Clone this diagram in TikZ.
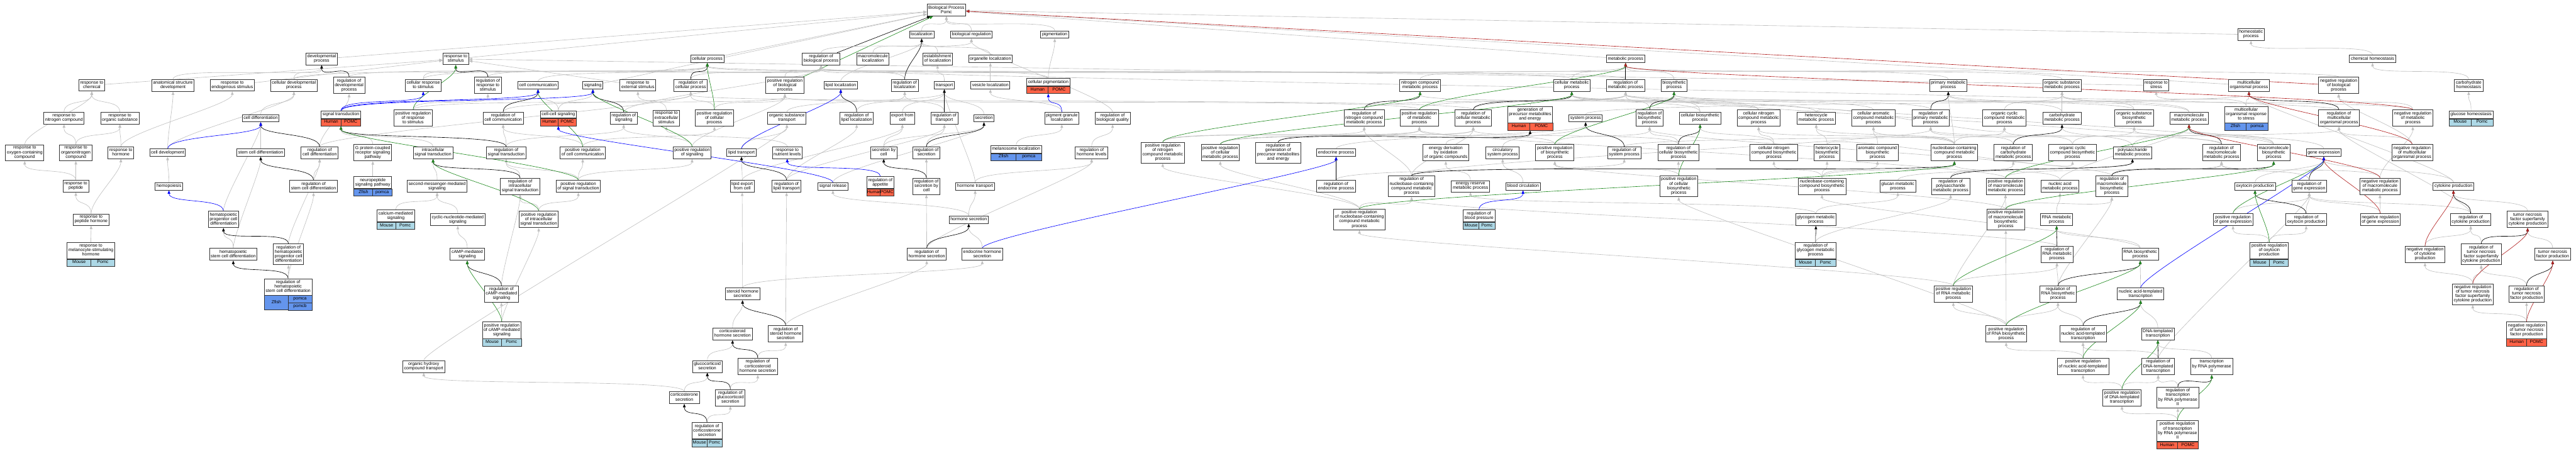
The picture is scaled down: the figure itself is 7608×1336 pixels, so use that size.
\documentclass[tikz,border=0pt]{standalone}
\usepackage{fontspec}
\setmainfont{Liberation Sans}
\usetikzlibrary{arrows.meta,calc,fit}
\pgfdeclarelayer{edges}
\pgfsetlayers{edges,main}

\definecolor{human}{RGB}{255,99,71}
\definecolor{mouse}{RGB}{173,216,230}
\definecolor{zfish}{RGB}{100,149,237}
\definecolor{edgegrey}{RGB}{192,192,192}
\definecolor{posgreen}{RGB}{34,139,34}
\definecolor{negred}{RGB}{178,34,34}

\tikzset{
  term/.style={draw=black!80, line width=1.6pt, fill=white, align=center,
    inner xsep=4pt, inner ysep=4.3pt, font=\fontsize{13}{13.2}\selectfont,
    execute at begin node=\strut, execute at end node=\strut},
  genecell/.style={draw=black!80, line width=1.2pt, minimum height=21pt,
    inner sep=1pt, font=\fontsize{13}{13.2}\selectfont, execute at begin node=\strut},
  link/.style={line width=1.2pt, -{Triangle[length=10pt,width=8pt]}},
  isa/.style={link, draw=edgegrey},
  reg/.style={link, draw=black},
  posreg/.style={link, draw=posgreen},
  negreg/.style={link, draw=negred},
  partof/.style={link, draw=blue},
}

% gene row under an annotated term: node, colour, organism, gene
\newcommand{\genes}[4]{%
  \path let \p1=($(#1-t.east)-(#1-t.west)$) in
    node[genecell, fill=#2, minimum width=0.5*\x1, anchor=north west] (#1-o) at (#1-t.south west) {#3}
    node[genecell, fill=#2, minimum width=0.5*\x1, anchor=north east] (#1-g) at (#1-t.south east) {#4};
  \node[fit=(#1-t)(#1-o)(#1-g), inner sep=0pt] (#1) {};
}

\begin{document}
\begin{tikzpicture}[x=1pt, y=-1pt]
  \useasboundingbox (0,0) rectangle (7608,1336);

  % top levels
  \node[term] (bp) at (2795,30) {Biological Process\\Pomc};
  \node[term] (localization) at (2722,102) {localization};
  \node[term] (bioreg) at (2869,102) {biological regulation};
  \node[term] (pigmentation) at (3115,102) {pigmentation};
  \node[term] (homeo) at (6648,102) {homeostatic\\process};

  \node[term] (devproc) at (950,174) {developmental\\process};
  \node[term] (respstim) at (1346,174) {response to\\stimulus};
  \node[term] (cellproc) at (2089,174) {cellular process};
  \node[term] (regbioproc) at (2425,174) {regulation of\\biological process};
  \node[term] (macroloc) at (2578,174) {macromolecule\\localization};
  \node[term] (estloc) at (2769,174) {establishment\\of localization};
  \node[term] (orgloc) at (2925,174) {organelle localization};
  \node[term] (metproc) at (4801,174) {metabolic process};
  \node[term] (chemhomeo) at (7007,174) {chemical homeostasis};

  % row 3
  \node[term] (respchem) at (271,252) {response to\\chemical};
  \node[term] (anatdev) at (511,252) {anatomical structure\\development};
  \node[term] (respendo) at (686,252) {response to\\endogenous stimulus};
  \node[term] (celldevproc) at (868,252) {cellular developmental\\process};
  \node[term] (regdevproc) at (1031,252) {regulation of\\developmental\\process};
  \node[term] (cellresp) at (1250,252) {cellular response\\to stimulus};
  \node[term] (regrespstim) at (1441,252) {regulation of\\response to\\stimulus};
  \node[term] (cellcomm) at (1589,252) {cell communication};
  \node[term] (signaling) at (1751,252) {signaling};
  \node[term] (respext) at (1884,252) {response to\\external stimulus};
  \node[term] (regcellproc) at (2040,252) {regulation of\\cellular process};
  \node[term] (posregbio) at (2318,252) {positive regulation\\of biological\\process};
  \node[term] (lipidloc) at (2483,252) {lipid localization};
  \node[term] (regloc) at (2672,252) {regulation of\\localization};
  \node[term] (transport) at (2789,252) {transport};
  \node[term] (vesicleloc) at (2925,252) {vesicle localization};
  \node[term] (cellpig-t) at (3096,242.5) {cellular pigmentation};
  \genes{cellpig}{human}{Human}{POMC}
  \node[term] (nitrometab) at (4194,252) {nitrogen compound\\metabolic process};
  \node[term] (cellmet) at (4642,252) {cellular metabolic\\process};
  \node[term] (regmet) at (4801,252) {regulation of\\metabolic process};
  \node[term] (biosyn) at (4944,252) {biosynthetic\\process};
  \node[term] (primmet) at (5754,252) {primary metabolic\\process};
  \node[term] (orgsubmet) at (6090,252) {organic substance\\metabolic process};
  \node[term] (respstress) at (6368,252) {response to\\stress};
  \node[term] (multiorg) at (6642,252) {multicellular\\organismal process};
  \node[term] (negregbio) at (6907,252) {negative regulation\\of biological\\process};
  \node[term] (carbohomeo) at (7291,252) {carbohydrate\\homeostasis};

  % row 4
  \node[term] (respnitro) at (189,349) {response to\\nitrogen compound};
  \node[term] (resporg) at (354,349) {response to\\organic substance};
  \node[term] (celldiff) at (770,349) {cell differentiation};
  \node[term] (sigtrans-t) at (1007,338.5) {signal transduction};
  \genes{sigtrans}{human}{Human}{POMC}
  \node[term] (posregresp) at (1220,349) {positive regulation\\of response\\to stimulus};
  \node[term] (regcellcomm) at (1486,349) {regulation of\\cell communication};
  \node[term] (cellcell-t) at (1649,338) {cell-cell signaling};
  \genes{cellcell}{human}{Human}{POMC}
  \node[term] (regsig) at (1842,349) {regulation of\\signaling};
  \node[term] (respextra) at (1968,349) {response to\\extracellular\\stimulus};
  \node[term] (posregcellproc) at (2110,349) {positive regulation\\of cellular\\process};
  \node[term] (orgsubtrans) at (2324,349) {organic substance\\transport};
  \node[term] (reglipidloc) at (2530,349) {regulation of\\lipid localization};
  \node[term] (exportcell) at (2665,349) {export from\\cell};
  \node[term] (regtransport) at (2789,349) {regulation of\\transport};
  \node[term] (secretion) at (2906,349) {secretion};
  \node[term] (pigloc) at (3136,349) {pigment granule\\localization};
  \node[term] (regbioqual) at (3286,349) {regulation of\\biological quality};
  \node[term] (regnitro) at (4029,349) {regulation of\\nitrogen compound\\metabolic process};
  \node[term] (posregmet) at (4192,349) {positive regulation\\of metabolic\\process};
  \node[term] (regcellmet) at (4351,349) {regulation of\\cellular metabolic\\process};
  \node[term] (genprec-t) at (4519,338) {generation of\\precursor metabolites\\and energy};
  \genes{genprec}{human}{Human}{POMC}
  \node[term] (sysproc) at (4683,349) {system process};
  \node[term] (regbiosyn) at (4872,349) {regulation of\\biosynthetic\\process};
  \node[term] (cellbiosyn) at (5021,349) {cellular biosynthetic\\process};
  \node[term] (cellnitro) at (5194,349) {cellular nitrogen\\compound metabolic\\process};
  \node[term] (heterometab) at (5364,349) {heterocycle\\metabolic process};
  \node[term] (cellarom) at (5533,349) {cellular aromatic\\compound metabolic\\process};
  \node[term] (regprimmet) at (5702,349) {regulation of\\primary metabolic\\process};
  \node[term] (orgcyclicmet) at (5920,349) {organic cyclic\\compound metabolic\\process};
  \node[term] (carbomet) at (6090,349) {carbohydrate\\metabolic process};
  \node[term] (orgsubbiosyn) at (6303,349) {organic substance\\biosynthetic\\process};
  \node[term] (macromet) at (6465,349) {macromolecule\\metabolic process};
  \node[term] (multiorgstress-t) at (6634,338) {multicellular\\organismal response\\to stress};
  \genes{multiorgstress}{zfish}{Zfish}{pomca}
  \node[term] (regmultiorg) at (6908,349) {regulation of\\multicellular\\organismal process};
  \node[term] (negregmet) at (7126,349) {negative regulation\\of metabolic\\process};
  \node[term] (glucosehomeo-t) at (7298,338.5) {glucose homeostasis};
  \genes{glucosehomeo}{mouse}{Mouse}{Pomc}

  % row 5
  \node[term] (respoxy) at (73,451) {response to\\oxygen-containing\\compound};
  \node[term] (resporgnitro) at (224,451) {response to\\organonitrogen\\compound};
  \node[term] (resphorm) at (357,451) {response to\\hormone};
  \node[term] (celldev) at (495,451) {cell development};
  \node[term] (stemdiff) at (770,451) {stem cell differentiation};
  \node[term] (regcelldiff) at (944,451) {regulation of\\cell differentiation};
  \node[term] (gpcr) at (1101,451) {G protein-coupled\\receptor signaling\\pathway};
  \node[term] (intrasig) at (1279,451) {intracellular\\signal transduction};
  \node[term] (regsigtrans) at (1495,451) {regulation of\\signal transduction};
  \node[term] (posregcellcomm) at (1721,451) {positive regulation\\of cell communication};
  \node[term] (posregsig) at (2044,451) {positive regulation\\of signaling};
  \node[term] (lipidtrans) at (2190,451) {lipid transport};
  \node[term] (respnutr) at (2325,451) {response to\\nutrient levels};
  \node[term] (secbycell) at (2610,451) {secretion by\\cell};
  \node[term] (regsec) at (2736,451) {regulation of\\secretion};
  \node[term] (melanosome-t) at (3001,440.5) {melanosome localization};
  \genes{melanosome}{zfish}{Zfish}{pomca}
  \node[term] (reghormlev) at (3224,451) {regulation of\\hormone levels};
  \node[term] (posregnitro) at (3434,451) {positive regulation\\of nitrogen\\compound metabolic\\process};
  \node[term] (posregcellmet) at (3604,451) {positive regulation\\of cellular\\metabolic process};
  \node[term] (reggenprec) at (3775,451) {regulation of\\generation of\\precursor metabolites\\and energy};
  \node[term] (endocrine) at (3946,451) {endocrine process};
  \node[term] (energyderiv) at (4270,451) {energy derivation\\by oxidation\\of organic compounds};
  \node[term] (circsys) at (4438,451) {circulatory\\system process};
  \node[term] (posregbiosyn) at (4592,451) {positive regulation\\of biosynthetic\\process};
  \node[term] (regsys) at (4797,451) {regulation of\\system process};
  \node[term] (regcellbiosyn) at (4957,451) {regulation of\\cellular biosynthetic\\process};
  \node[term] (cellnitrobiosyn) at (5239,451) {cellular nitrogen\\compound biosynthetic\\process};
  \node[term] (heterobiosyn) at (5396,451) {heterocycle\\biosynthetic\\process};
  \node[term] (arombiosyn) at (5545,451) {aromatic compound\\biosynthetic\\process};
  \node[term] (nucleomet) at (5772,451) {nucleobase-containing\\compound metabolic\\process};
  \node[term] (regcarbo) at (5946,451) {regulation of\\carbohydrate\\metabolic process};
  \node[term] (orgcyclicbiosyn) at (6121,451) {organic cyclic\\compound biosynthetic\\process};
  \node[term] (polysacmet) at (6298,451) {polysaccharide\\metabolic process};
  \node[term] (regmacromet) at (6561,451) {regulation of\\macromolecule\\metabolic process};
  \node[term] (macrobiosyn) at (6715,451) {macromolecule\\biosynthetic\\process};
  \node[term] (geneexpr) at (6863,451) {gene expression};
  \node[term] (negregmulti) at (7124,451) {negative regulation\\of multicellular\\organismal process};

  % row 6
  \node[term] (resppep) at (224,550) {response to\\peptide};
  \node[term] (hemopoiesis) at (499,550) {hemopoiesis};
  \node[term] (regstemdiff) at (926,550) {regulation of\\stem cell differentiation};
  \node[term] (neuropep-t) at (1101,539) {neuropeptide\\signaling pathway};
  \genes{neuropep}{zfish}{Zfish}{pomca}
  \node[term] (secondmsg) at (1291,550) {second-messenger-mediated\\signaling};
  \node[term] (regintrasig) at (1536,550) {regulation of\\intracellular\\signal transduction};
  \node[term] (posregsigtrans) at (1708,550) {positive regulation\\of signal transduction};
  \node[term] (lipidexport) at (2192,550) {lipid export\\from cell};
  \node[term] (reglipidtrans) at (2323,550) {regulation of\\lipid transport};
  \node[term] (sigrelease) at (2460,550) {signal release};
  \node[term] (regappetite-t) at (2600,539) {regulation of\\appetite};
  \genes{regappetite}{human}{Human}{POMC}
  \node[term] (regsecbycell) at (2736,550) {regulation of\\secretion by\\cell};
  \node[term] (hormtrans) at (2880,550) {hormone transport};
  \node[term] (regendo) at (3946,550) {regulation of\\endocrine process};
  \node[term] (regnucleo) at (4169,550) {regulation of\\nucleobase-containing\\compound metabolic\\process};
  \node[term] (energyres) at (4343,550) {energy reserve\\metabolic process};
  \node[term] (bloodcirc) at (4498,550) {blood circulation};
  \node[term] (posregcellbiosyn) at (4958,550) {positive regulation\\of cellular\\biosynthetic\\process};
  \node[term] (nucleobiosyn) at (5381,550) {nucleobase-containing\\compound biosynthetic\\process};
  \node[term] (glucanmet) at (5605,550) {glucan metabolic\\process};
  \node[term] (regpolysac) at (5761,550) {regulation of\\polysaccharide\\metabolic process};
  \node[term] (posregmacro) at (5923,550) {positive regulation\\of macromolecule\\metabolic process};
  \node[term] (nucleicmet) at (6084,550) {nucleic acid\\metabolic process};
  \node[term] (regmacrobiosyn) at (6237,550) {regulation of\\macromolecule\\biosynthetic\\process};
  \node[term] (oxytocin) at (6660,550) {oxytocin production};
  \node[term] (reggeneexpr) at (6820,550) {regulation of\\gene expression};
  \node[term] (negregmacromet) at (7029,550) {negative regulation\\of macromolecule\\metabolic process};
  \node[term] (cytokine) at (7246,550) {cytokine production};

  % row 7
  \node[term] (resppephorm) at (269,648.5) {response to\\peptide hormone};
  \node[term] (hemprog) at (660,648) {hematopoietic\\progenitor cell\\differentiation};
  \node[term] (calcium-t) at (1169,637.5) {calcium-mediated\\signaling};
  \genes{calcium}{mouse}{Mouse}{Pomc}
  \node[term] (cyclicnuc) at (1352,648.6) {cyclic-nucleotide-mediated\\signaling};
  \node[term] (posregintrasig) at (1591,648) {positive regulation\\of intracellular\\signal transduction};
  \node[term] (hormsec) at (2861,648.6) {hormone secretion};
  \node[term] (posregnucleo) at (4015,648) {positive regulation\\of nucleobase-containing\\compound metabolic\\process};
  \node[term] (regbp-t) at (4368,637.5) {regulation of\\blood pressure};
  \genes{regbp}{mouse}{Mouse}{Pomc}
  \node[term] (glycogenmet) at (5363,648.6) {glycogen metabolic\\process};
  \node[term] (posregmacrobiosyn) at (5924,648.5) {positive regulation\\of macromolecule\\biosynthetic\\process};
  \node[term] (rnamet) at (6074,648.6) {RNA metabolic\\process};
  \node[term] (posreggeneexpr) at (6595,648.6) {positive regulation\\of gene expression};
  \node[term] (regoxytocin) at (6811,648.6) {regulation of\\oxytocin production};
  \node[term] (negreggeneexpr) at (7030,648.6) {negative regulation\\of gene expression};
  \node[term] (regcytokine) at (7297,648.6) {regulation of\\cytokine production};
  \node[term] (tnfsuper) at (7465,648) {tumor necrosis\\factor superfamily\\cytokine production};

  % row 8
  \node[term] (respmsh-t) at (268.5,740) {response to\\melanocyte-stimulating\\hormone};
  \genes{respmsh}{mouse}{Mouse}{Pomc}
  \node[term] (hsc) at (689,751) {hematopoietic\\stem cell differentiation};
  \node[term] (reghemprog) at (852,751) {regulation of\\hematopoietic\\progenitor cell\\differentiation};
  \node[term] (camp) at (1380,751) {cAMP-mediated\\signaling};
  \node[term] (reghormsec) at (2737,751) {regulation of\\hormone secretion};
  \node[term] (endohormsec) at (2901,751) {endocrine hormone\\secretion};
  \node[term] (regglycogen-t) at (5362,740) {regulation of\\glycogen metabolic\\process};
  \genes{regglycogen}{mouse}{Mouse}{Pomc}
  \node[term] (regrnamet) at (6075,751) {regulation of\\RNA metabolic\\process};
  \node[term] (rnabiosyn) at (6321,751) {RNA biosynthetic\\process};
  \node[term] (posregoxytocin-t) at (6702,740) {positive regulation\\of oxytocin\\production};
  \genes{posregoxytocin}{mouse}{Mouse}{Pomc}
  \node[term] (negregcytokine) at (7162,751) {negative regulation\\of cytokine\\production};
  \node[term] (regtnfsuper) at (7328,751) {regulation of\\tumor necrosis\\factor superfamily\\cytokine production};
  \node[term] (tnfprod) at (7539,751) {tumor necrosis\\factor production};

  % row 9
  \node[term] (reghsc-t) at (851,847) {regulation of\\hematopoietic\\stem cell differentiation};
  \path let \p1=($(reghsc-t.east)-(reghsc-t.west)$) in
    node[genecell, fill=zfish, minimum width=0.5*\x1, minimum height=42pt, anchor=north west] (reghsc-o) at (reghsc-t.south west) {Zfish}
    node[genecell, fill=zfish, minimum width=0.5*\x1, anchor=north east] (reghsc-g) at (reghsc-t.south east) {pomca}
    node[genecell, fill=zfish, minimum width=0.5*\x1, anchor=north east] (reghsc-h) at (reghsc-g.south east) {pomcb};
  \node[fit=(reghsc-t)(reghsc-o)(reghsc-h), inner sep=0pt] (reghsc) {};
  \node[term] (regcamp) at (1481,868) {regulation of\\cAMP-mediated\\signaling};
  \node[term] (steroidsec) at (2193,868) {steroid hormone\\secretion};
  \node[term] (posregrnamet) at (5769,868) {positive regulation\\of RNA metabolic\\process};
  \node[term] (regrnabiosyn) at (6078,868) {regulation of\\RNA biosynthetic\\process};
  \node[term] (nucleictrans) at (6322,868) {nucleic acid-templated\\transcription};
  \node[term] (negregtnfsuper) at (7303,868.7) {negative regulation\\of tumor necrosis\\factor superfamily\\cytokine production};
  \node[term] (regtnf) at (7462,868) {regulation of\\tumor necrosis\\factor production};

  % row 10
  \node[term] (posregcamp-t) at (1482,975) {positive regulation\\of cAMP-mediated\\signaling};
  \genes{posregcamp}{mouse}{Mouse}{Pomc}
  \node[term] (corticosec) at (2163.5,986) {corticosteroid\\hormone secretion};
  \node[term] (regsteroid) at (2320.5,986) {regulation of\\steroid hormone\\secretion};
  \node[term] (posregrnabiosyn) at (5925,986) {positive regulation\\of RNA biosynthetic\\process};
  \node[term] (regnucleictrans) at (6152,986) {regulation of\\nucleic acid-templated\\transcription};
  \node[term] (dnatrans) at (6373,986) {DNA-templated\\transcription};
  \node[term] (negregtnf-t) at (7462,975) {negative regulation\\of tumor necrosis\\factor production};
  \genes{negregtnf}{human}{Human}{POMC}

  % rows 11-13
  \node[term] (orghydroxy) at (1251.5,1082) {organic hydroxy\\compound transport};
  \node[term] (glucosec) at (2089,1082) {glucocorticoid\\secretion};
  \node[term] (regcortico) at (2238,1082) {regulation of\\corticosteroid\\hormone secretion};
  \node[term] (posregnucleictrans) at (6152,1082) {positive regulation\\of nucleic acid-templated\\transcription};
  \node[term] (regdnatrans) at (6374,1082) {regulation of\\DNA-templated\\transcription};
  \node[term] (transpol2) at (6532,1082) {transcription\\by RNA polymerase\\II};
  \node[term] (corticosterone) at (2021,1174) {corticosterone\\secretion};
  \node[term] (regglucosec) at (2157,1174) {regulation of\\glucocorticoid\\secretion};
  \node[term] (posregdnatrans) at (6267,1174) {positive regulation\\of DNA-templated\\transcription};
  \node[term] (regtranspol2) at (6432,1174) {regulation of\\transcription\\by RNA polymerase\\II};
  \node[term] (regcorticosterone-t) at (2088,1272) {regulation of\\corticosterone\\secretion};
  \genes{regcorticosterone}{mouse}{Mouse}{Pomc}
  \node[term] (posregtranspol2-t) at (6431,1272.6) {positive regulation\\of transcription\\by RNA polymerase\\II};
  \genes{posregtranspol2}{human}{Human}{POMC}

  \begin{pgfonlayer}{edges}
  % long is_a edges into the sides of their parents
  \foreach \a/\b in {devproc/bp, respstim/bp, cellproc/bp, homeo/bp, metproc/bp, multiorg/bp, signaling/bp,
    respchem/respstim, respendo/respstim, respext/respstim, respstress/respstim}
    \draw[isa] (\a) -- (\b);
  \draw[reg] (regbioproc) -- (bp);
  \draw[posreg] (posregbio) -- (bp);
  \draw[negreg] (negregbio) -- (bp);

  % is_a
  \foreach \a/\b in {localization/bp, bioreg/bp, pigmentation/bp, anatdev/devproc,
    celldevproc/devproc, celldevproc/cellproc, regdevproc/regbioproc, cellresp/respstim, cellresp/cellproc,
    respnitro/respchem, resporg/respchem, respoxy/respchem, resporgnitro/respnitro, resporgnitro/resporg,
    resphorm/resporg, resphorm/respendo, celldev/anatdev, celldev/celldevproc, celldiff/celldevproc,
    stemdiff/celldiff, regcelldiff/regdevproc, regcelldiff/regcellproc, posregresp/regrespstim,
    posregresp/posregbio, gpcr/sigtrans, intrasig/sigtrans, resppep/resporgnitro, resppep/respoxy,
    hemopoiesis/celldev, hemprog/celldiff, regstemdiff/regcelldiff, neuropep/gpcr, secondmsg/intrasig,
    calcium/secondmsg, resppephorm/resppep, resppephorm/resphorm, respmsh/resppephorm, hsc/hemprog,
    hsc/stemdiff, reghemprog/regcelldiff, reghsc/reghemprog, reghsc/regstemdiff, orghydroxy/orgsubtrans,
    regbioproc/bioreg, regrespstim/regbioproc, cellcomm/cellproc, regcellproc/regbioproc,
    posregbio/regbioproc, lipidloc/localization, macroloc/localization, regcellcomm/regcellproc,
    cellcell/cellcomm, cellcell/signaling, regsig/regbioproc, respextra/respext, posregcellproc/regcellproc,
    posregcellproc/posregbio, orgsubtrans/transport, reglipidloc/regloc, regsigtrans/regsig,
    regsigtrans/regcellcomm, posregcellcomm/regcellcomm, posregcellcomm/posregcellproc, posregsig/regsig,
    posregsig/posregbio, lipidtrans/orgsubtrans, respnutr/respextra, regintrasig/regsigtrans,
    posregsigtrans/regsigtrans, posregsigtrans/posregcellcomm, posregsigtrans/posregsig,
    lipidexport/lipidtrans, lipidexport/exportcell, reglipidtrans/reglipidloc, reglipidtrans/regtransport,
    sigrelease/secretion, cyclicnuc/secondmsg, posregintrasig/regintrasig, posregintrasig/posregsigtrans,
    camp/cyclicnuc, regcamp/regintrasig, posregcamp/regcamp, posregcamp/posregintrasig,
    steroidsec/lipidexport, steroidsec/endohormsec, regsteroid/reglipidtrans, regsteroid/reghormsec,
    corticosec/steroidsec, regcortico/regsteroid, glucosec/corticosec, regglucosec/regcortico,
    corticosterone/glucosec, corticosterone/orghydroxy, regcorticosterone/regglucosec,
    estloc/localization, orgloc/localization, regloc/regbioproc, transport/estloc, vesicleloc/orgloc,
    cellpig/pigmentation, cellpig/cellproc, exportcell/transport, regtransport/regloc, secretion/transport,
    pigloc/vesicleloc, regbioqual/bioreg, secbycell/exportcell, secbycell/secretion, regsec/regtransport,
    melanosome/pigloc, reghormlev/regbioqual, posregnitro/regnitro, posregnitro/posregmet,
    posregcellmet/regcellmet, posregcellmet/posregmet, reggenprec/regcellmet, regsecbycell/regsec,
    hormtrans/reghormlev, hormtrans/transport, hormsec/hormtrans, hormsec/sigrelease,
    reghormsec/regsecbycell, reghormsec/reghormlev, endohormsec/hormsec,
    nitrometab/metproc, cellmet/metproc, cellmet/cellproc, regmet/regbioproc, biosyn/metproc,
    regnitro/regmet, posregmet/regmet, posregmet/posregbio, regcellmet/regmet, regcellmet/regcellproc,
    genprec/cellmet, sysproc/multiorg, regbiosyn/regmet, cellbiosyn/biosyn, cellbiosyn/cellmet,
    endocrine/sysproc, energyderiv/genprec, circsys/sysproc, posregbiosyn/regbiosyn, posregbiosyn/posregmet,
    regsys/regmultiorg, regcellbiosyn/regbiosyn, regcellbiosyn/regcellmet, regendo/regsys,
    regnucleo/regnitro, regnucleo/regcellmet, regnucleo/regprimmet, energyres/energyderiv,
    bloodcirc/circsys, posregcellbiosyn/regcellbiosyn, posregcellbiosyn/posregbiosyn,
    posregnucleo/regnucleo, posregnucleo/posregnitro, posregnucleo/posregcellmet,
    primmet/metproc, orgsubmet/metproc, cellnitro/nitrometab, cellnitro/cellmet,
    heterometab/orgcyclicmet, heterometab/cellmet, cellarom/cellmet, regprimmet/regmet,
    orgcyclicmet/orgsubmet, carbomet/primmet, carbomet/orgsubmet, orgsubbiosyn/orgsubmet,
    orgsubbiosyn/biosyn, cellnitrobiosyn/cellnitro, cellnitrobiosyn/cellbiosyn, heterobiosyn/heterometab,
    heterobiosyn/orgcyclicbiosyn, arombiosyn/cellarom, nucleomet/primmet, nucleomet/heterometab,
    nucleomet/cellarom, nucleomet/orgcyclicmet, nucleomet/cellnitro, regcarbo/regprimmet,
    orgcyclicbiosyn/orgcyclicmet, orgcyclicbiosyn/orgsubbiosyn, polysacmet/carbomet, polysacmet/macromet,
    nucleobiosyn/nucleomet, nucleobiosyn/heterobiosyn, nucleobiosyn/cellnitrobiosyn, nucleobiosyn/arombiosyn,
    glucanmet/polysacmet, regpolysac/regcarbo, posregmacro/regmacromet, posregmacro/posregmet,
    nucleicmet/nucleomet, nucleicmet/macromet, regmacrobiosyn/regbiosyn, regmacrobiosyn/regmacromet,
    glycogenmet/glucanmet, glycogenmet/energyres, posregmacrobiosyn/posregmacro,
    posregmacrobiosyn/regmacrobiosyn, posregmacrobiosyn/posregbiosyn, rnamet/nucleicmet,
    regglycogen/regpolysac, regrnamet/regnucleo, rnabiosyn/rnamet, rnabiosyn/nucleobiosyn,
    posregrnamet/regrnamet, posregrnamet/posregmacro, posregrnamet/posregnucleo, regrnabiosyn/regrnamet,
    regrnabiosyn/regmacrobiosyn, nucleictrans/rnabiosyn, posregrnabiosyn/regrnabiosyn,
    posregrnabiosyn/posregrnamet, posregrnabiosyn/posregmacrobiosyn, posregrnabiosyn/posregcellbiosyn,
    regnucleictrans/regrnabiosyn, dnatrans/nucleictrans, posregnucleictrans/regnucleictrans,
    posregnucleictrans/posregrnabiosyn, regdnatrans/regnucleictrans, regdnatrans/reggeneexpr,
    posregdnatrans/posregnucleictrans, posregdnatrans/regdnatrans, transpol2/dnatrans,
    regtranspol2/regdnatrans, posregtranspol2/regtranspol2, posregtranspol2/posregdnatrans,
    posregoxytocin/regoxytocin, posregoxytocin/posreggeneexpr, negregcytokine/regcytokine,
    regtnfsuper/regcytokine, tnfprod/tnfsuper, negregtnfsuper/negregcytokine, negregtnfsuper/regtnfsuper,
    regtnf/regtnfsuper, negregtnf/negregtnfsuper, negregtnf/regtnf,
    chemhomeo/homeo, carbohomeo/chemhomeo, glucosehomeo/carbohomeo, negregbio/regbioproc,
    macromet/primmet, macromet/orgsubmet, multiorgstress/multiorg, multiorgstress/respstress,
    regmultiorg/regbioproc, negregmet/regmet, negregmet/negregbio, regmacromet/regmet,
    regmacromet/regprimmet, macrobiosyn/macromet, macrobiosyn/biosyn, macrobiosyn/orgsubbiosyn,
    geneexpr/macromet, negregmulti/regmultiorg, negregmulti/negregbio, oxytocin/geneexpr,
    reggeneexpr/regmacromet, negregmacromet/regmacromet, negregmacromet/negregmet, cytokine/geneexpr,
    cytokine/multiorg, posreggeneexpr/reggeneexpr, regoxytocin/reggeneexpr, negreggeneexpr/reggeneexpr,
    negreggeneexpr/negregmacromet, regcytokine/reggeneexpr, regcytokine/regmultiorg, tnfsuper/cytokine}
    \draw[isa] (\a.north) .. controls +(0,-40) and +(0,40) .. (\b.south);

  % regulates
  \foreach \a/\b in {regdevproc/devproc, regcelldiff/celldiff, regstemdiff/stemdiff, reghemprog/hemprog,
    reghsc/hsc, regrespstim/respstim, regcellproc/cellproc, regcellcomm/cellcomm,
    regsig/signaling, regsigtrans/sigtrans, regintrasig/intrasig, reglipidloc/lipidloc,
    reglipidtrans/lipidtrans, regcamp/camp, regsteroid/steroidsec, regcortico/corticosec,
    regglucosec/glucosec, regcorticosterone/corticosterone, regloc/localization, regtransport/transport,
    regsec/secretion, regsecbycell/secbycell, reghormsec/hormsec, reggenprec/genprec, regmet/metproc,
    regnitro/nitrometab, regcellmet/cellmet, regbiosyn/biosyn, regsys/sysproc, regcellbiosyn/cellbiosyn,
    regendo/endocrine, regnucleo/nucleomet, regprimmet/primmet, regcarbo/carbomet, regpolysac/polysacmet,
    regmacrobiosyn/macrobiosyn, regglycogen/glycogenmet, regrnamet/rnamet, regrnabiosyn/rnabiosyn,
    regnucleictrans/nucleictrans, regdnatrans/dnatrans, regtranspol2/transpol2, regmultiorg/multiorg,
    regmacromet/macromet, reggeneexpr/geneexpr, regoxytocin/oxytocin, regcytokine/cytokine,
    regtnfsuper/tnfsuper, regtnf/tnfprod}
    \draw[reg] (\a.north) .. controls +(0,-40) and +(0,40) .. (\b.south);

  % positively regulates
  \foreach \a/\b in {posregresp/respstim, posregcellproc/cellproc, posregcellcomm/cellcomm,
    posregsig/signaling, posregsigtrans/sigtrans, posregintrasig/intrasig, posregcamp/camp,
    posregnitro/nitrometab, posregcellmet/cellmet, posregmet/metproc, posregbiosyn/biosyn,
    posregcellbiosyn/cellbiosyn, posregnucleo/nucleomet, posregmacro/macromet,
    posregmacrobiosyn/macrobiosyn, posregrnamet/rnamet, posregrnabiosyn/rnabiosyn,
    posregnucleictrans/nucleictrans, posregdnatrans/dnatrans, posregtranspol2/transpol2,
    posreggeneexpr/geneexpr, posregoxytocin/oxytocin}
    \draw[posreg] (\a.north) .. controls +(0,-40) and +(0,40) .. (\b.south);

  % negatively regulates
  \foreach \a/\b in {negregmet/metproc, negregmulti/multiorg, negregmacromet/macromet,
    negreggeneexpr/geneexpr, negregcytokine/cytokine, negregtnfsuper/tnfsuper, negregtnf/tnfprod}
    \draw[negreg] (\a.north) .. controls +(0,-40) and +(0,40) .. (\b.south);

  % part of
  \foreach \a/\b in {celldev/celldiff, hemprog/hemopoiesis, sigtrans/cellresp, sigtrans/signaling,
    sigtrans/cellcomm, lipidtrans/lipidloc, sigrelease/cellcell, regappetite/respnutr, pigloc/cellpig,
    endohormsec/endocrine, regbp/bloodcirc, nucleictrans/geneexpr}
    \draw[partof] (\a.north) .. controls +(0,-40) and +(0,40) .. (\b.south);
  \end{pgfonlayer}
\end{tikzpicture}
\end{document}
